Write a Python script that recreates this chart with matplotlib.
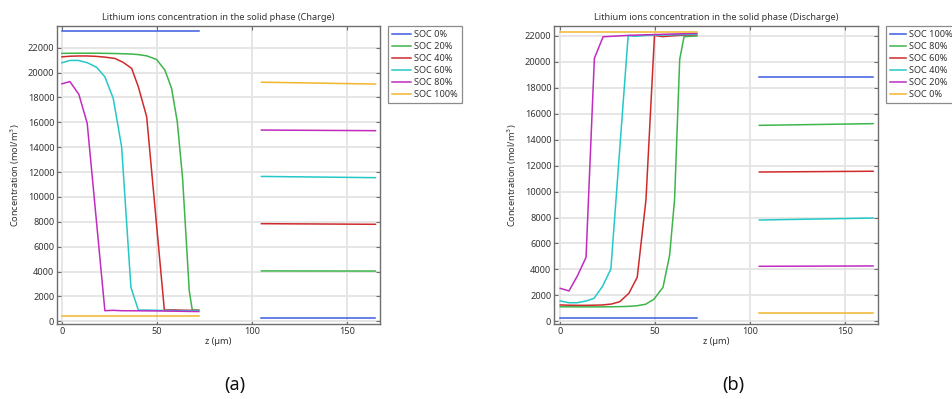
import matplotlib
matplotlib.use("Agg")
import matplotlib.pyplot as plt

plt.rcParams["font.family"] = ["Noto Sans", "DejaVu Sans"]

# ---- data -------------------------------------------------------------
colors = ["#3a5ce0", "#3db54a", "#cf2a2a", "#25c8c8", "#c02cc0", "#f0b62e"]

# Charge: negative electrode (z in µm, concentration in mol/m^3)
charge_labels = ["SOC 0%", "SOC 20%", "SOC 40%", "SOC 60%", "SOC 80%", "SOC 100%"]
charge_neg_z = [
    [0, 72],
    [0, 9, 18, 27, 36, 40.2, 44.6, 49.8, 54.2, 57.7, 60.7, 63.5, 67, 68.6, 72],
    [0, 4.4, 8.9, 13.3, 17.8, 22.4, 27.9, 32.3, 36.7, 40.2, 44.6, 53.9, 58.5, 63, 67.5, 72],
    [0, 4.2, 8.6, 13.5, 18.3, 22.6, 27, 31.4, 36.3, 40.2, 45, 50, 54, 60, 66, 72],
    [0, 4.2, 8.9, 13.3, 22.6, 27, 31, 40, 50, 60, 72],
    [0, 72],
]
charge_neg_c = [
    [23310, 23310],
    [21550, 21560, 21560, 21540, 21500, 21450, 21350, 21060, 20200, 18730, 16050, 11500, 2460, 900, 900],
    [21270, 21320, 21340, 21340, 21310, 21250, 21140, 20820, 20340, 18860, 16450, 900, 920, 890, 880, 870],
    [20790, 20980, 20980, 20790, 20420, 19660, 17930, 14040, 2730, 900, 900, 880, 870, 860, 850, 850],
    [19100, 19280, 18250, 15920, 850, 880, 850, 840, 830, 810, 780],
    [450, 450],
]
# Charge: positive electrode
pos_z = [105, 165]
charge_pos_c = [
    [290, 290],
    [4050, 4040],
    [7850, 7800],
    [11650, 11550],
    [15380, 15330],
    [19230, 19080],
]

# Discharge: negative electrode
discharge_labels = ["SOC 100%", "SOC 80%", "SOC 60%", "SOC 40%", "SOC 20%", "SOC 0%"]
discharge_neg_z = [
    [0, 72],
    [0, 9, 18, 27, 31.4, 36, 40.6, 45, 49.4, 54.2, 57.7, 60.3, 63, 65.3, 72],
    [0, 4.4, 9, 13.4, 17.8, 22.4, 27, 31.4, 36.2, 40.6, 45.2, 49.7, 54, 58, 63, 72],
    [0, 4.4, 8.8, 13.3, 17.8, 22.2, 26.7, 35.8, 40, 45, 54, 63, 72],
    [0, 4.6, 9, 13.6, 18, 22.6, 36, 54, 72],
    [0, 72],
]
discharge_neg_c = [
    [270, 270],
    [1120, 1110, 1110, 1120, 1130, 1150, 1200, 1310, 1700, 2620, 5110, 9400, 20200, 21950, 22000],
    [1260, 1240, 1230, 1230, 1240, 1260, 1330, 1510, 2160, 3390, 9350, 22050, 21950, 22000, 22050, 22100],
    [1570, 1430, 1430, 1550, 1770, 2670, 4030, 22020, 21980, 22050, 22080, 22100, 22130],
    [2540, 2340, 3490, 4930, 20280, 21940, 22050, 22130, 22200],
    [22330, 22330],
]
discharge_pos_c = [
    [18840, 18840],
    [15110, 15240],
    [11510, 11570],
    [7810, 7960],
    [4240, 4265],
    [617, 617],
]

x_ticks = [0, 50, 100, 150]
y_ticks = list(range(0, 22001, 2000))

# ---- figure -----------------------------------------------------------
W, H = 953, 399
fig = plt.figure(figsize=(W / 100, H / 100), dpi=100)

FS = 6.6
TXT = "#333333"
SPINE = "#6e6e6e"


def panel(rect, title, labels, neg_z, neg_c, pos_c, xlim, ylim, hlen):
    ax = fig.add_axes(rect)
    for lab, col, zn, cn, cp in zip(labels, colors, neg_z, neg_c, pos_c):
        ax.plot(zn, cn, color=col, lw=1.1, label=lab, solid_joinstyle="round")
        ax.plot(pos_z, cp, color=col, lw=1.1)
    ax.set_xlim(*xlim)
    ax.set_ylim(*ylim)
    ax.set_xticks(x_ticks)
    ax.set_yticks(y_ticks)
    ax.grid(True, color="#e4e4e4", lw=1.3)
    ax.set_axisbelow(True)
    ax.tick_params(direction="in", length=3, width=0.8, color=SPINE,
                   labelsize=FS, labelcolor=TXT, top=True, right=True, pad=2)
    for s in ax.spines.values():
        s.set_color(SPINE)
        s.set_linewidth(1.0)
    ax.set_title(title, fontsize=FS, color=TXT, pad=4)
    ax.set_xlabel("z (µm)", fontsize=FS, color=TXT, labelpad=1)
    ax.set_ylabel("Concentration (mol/m$^3$)", fontsize=FS, color=TXT, labelpad=4)
    leg = ax.legend(loc="upper left", bbox_to_anchor=(1.025, 1.0), borderaxespad=0,
                    fontsize=FS, frameon=True, fancybox=False, edgecolor="#6e6e6e",
                    handlelength=hlen, handletextpad=0.4, labelspacing=0.33,
                    borderpad=0.45)
    leg.get_frame().set_linewidth(0.9)
    for t in leg.get_texts():
        t.set_color(TXT)
    return ax


y0 = 1 - 324 / H
h = (324 - 26) / H
panel([57 / W, y0, 323 / W, h],
      "Lithium ions concentration in the solid phase (Charge)",
      charge_labels, charge_neg_z, charge_neg_c, charge_pos_c,
      (-2.6, 167.4), (-220, 23750), 2.0)
panel([554 / W, y0, 324 / W, h],
      "Lithium ions concentration in the solid phase (Discharge)",
      discharge_labels, discharge_neg_z, discharge_neg_c, discharge_pos_c,
      (-3.3, 167.6), (-210, 22770), 1.7)

fig.text(235 / W, 1 - 385 / H, "(a)", fontsize=13, ha="center", va="center", color="#111111")
fig.text(733 / W, 1 - 385 / H, "(b)", fontsize=13, ha="center", va="center", color="#111111")

fig.savefig("out.png", dpi=100)
